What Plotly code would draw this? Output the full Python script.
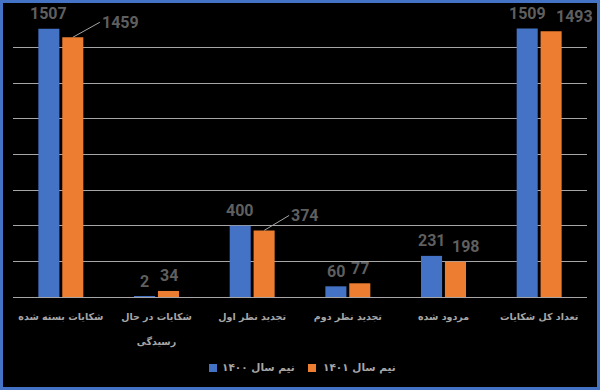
import plotly.graph_objects as go

categories = ["شکایات بسته شده", "شکایات در حال<br> <br>رسیدگی", "تجدید نظر اول",
              "تجدید نظر دوم", "مردود شده", "تعداد کل شکایات"]
series_names = ["نیم سال ۱۴۰۰", "نیم سال ۱۴۰۱"]
values_1400 = [1507, 2, 400, 60, 231, 1509]
values_1401 = [1459, 34, 374, 77, 198, 1493]
colors = ["#4472C4", "#ED7D31"]
# label placement tweaks for the 1401 series, as in the source chart
label_shift_1401 = [33, 0, 31, 0, 10, 23]
label_leader_1401 = [True, False, True, False, False, False]

W, H = 600, 390
ml, mr, mt, mb = 13, 13, 12, 93
pw = W - ml - mr
ph = H - mt - mb

def px(xp):
    return (xp - ml) / pw

def py(yp):
    return (H - mb - yp) / ph

fig = go.Figure()
for name, vals, col in zip(series_names, [values_1400, values_1401], colors):
    fig.add_trace(go.Bar(
        x=categories, y=vals, name=name, marker=dict(color=col, line=dict(width=0)),
        showlegend=False,
    ))

LBL = dict(family="Roboto, sans-serif", size=16, color="#5f5f5f", weight="bold")
bar_off = 12
for i, cat in enumerate(categories):
    v = values_1400[i]
    fig.add_annotation(x=cat, y=v, text=str(v), showarrow=False, xshift=-bar_off,
                       yshift=15, yanchor="middle", font=LBL)
    v = values_1401[i]
    s = label_shift_1401[i]
    if label_leader_1401[i]:
        fig.add_annotation(x=cat, y=v, text=str(v), showarrow=True, arrowhead=0,
                           arrowwidth=1, arrowcolor="#a6a6a6",
                           ax=bar_off + s - 18, ay=-15, axref="pixel", ayref="pixel",
                           xshift=bar_off, yanchor="middle", font=LBL,
                           standoff=0, startstandoff=0, xanchor="left")
    else:
        fig.add_annotation(x=cat, y=v, text=str(v), showarrow=False,
                           xshift=bar_off + s, yshift=15, yanchor="middle", font=LBL)

# custom legend (square + centred text), matching the compact source legend
leg_y = 368
leg_items = [(213, 258), (312, 359)]
for (sq_x, tx_c), name, col in zip(leg_items, series_names, colors):
    fig.add_shape(type="rect", xref="paper", yref="paper",
                  x0=px(sq_x - 4), x1=px(sq_x + 4), y0=py(leg_y + 4), y1=py(leg_y - 4),
                  fillcolor=col, line=dict(width=0))
    fig.add_annotation(xref="paper", yref="paper", x=px(tx_c), y=py(leg_y),
                       xanchor="center", yanchor="middle", text=name, showarrow=False,
                       font=dict(family="DejaVu Sans, sans-serif", size=10.5,
                                 color="#a6a6a6", weight="bold"))

fig.update_layout(
    width=W, height=H,
    margin=dict(l=ml, r=mr, t=mt, b=mb),
    paper_bgcolor="#000000", plot_bgcolor="#000000",
    barmode="group", bargap=0.5, bargroupgap=0.12,
    font=dict(family="DejaVu Sans, sans-serif", color="#a6a6a6"),
    xaxis=dict(showgrid=False, showline=True, linecolor="#a6a6a6", linewidth=1,
               range=[-0.5, len(categories) - 0.5], autorange=False,
               tickfont=dict(size=9.5, color="#a6a6a6", family="DejaVu Sans, sans-serif",
                             weight="bold"),
               ticks="", automargin=False, ticklabelstandoff=11),
    yaxis=dict(range=[0, 1601], autorange=False, tick0=0, dtick=200, showgrid=True,
               gridcolor="#a6a6a6", gridwidth=1, showticklabels=False, zeroline=False,
               automargin=False),
    showlegend=False,
)
fig.add_shape(type="rect", xref="paper", yref="paper",
              x0=-(ml - 1.5) / pw, x1=1 + (mr - 1.5) / pw,
              y0=-(mb - 1.5) / ph, y1=1 + (mt - 1.5) / ph,
              line=dict(color="#4472C4", width=3), layer="above")
fig.write_html("out.html")
